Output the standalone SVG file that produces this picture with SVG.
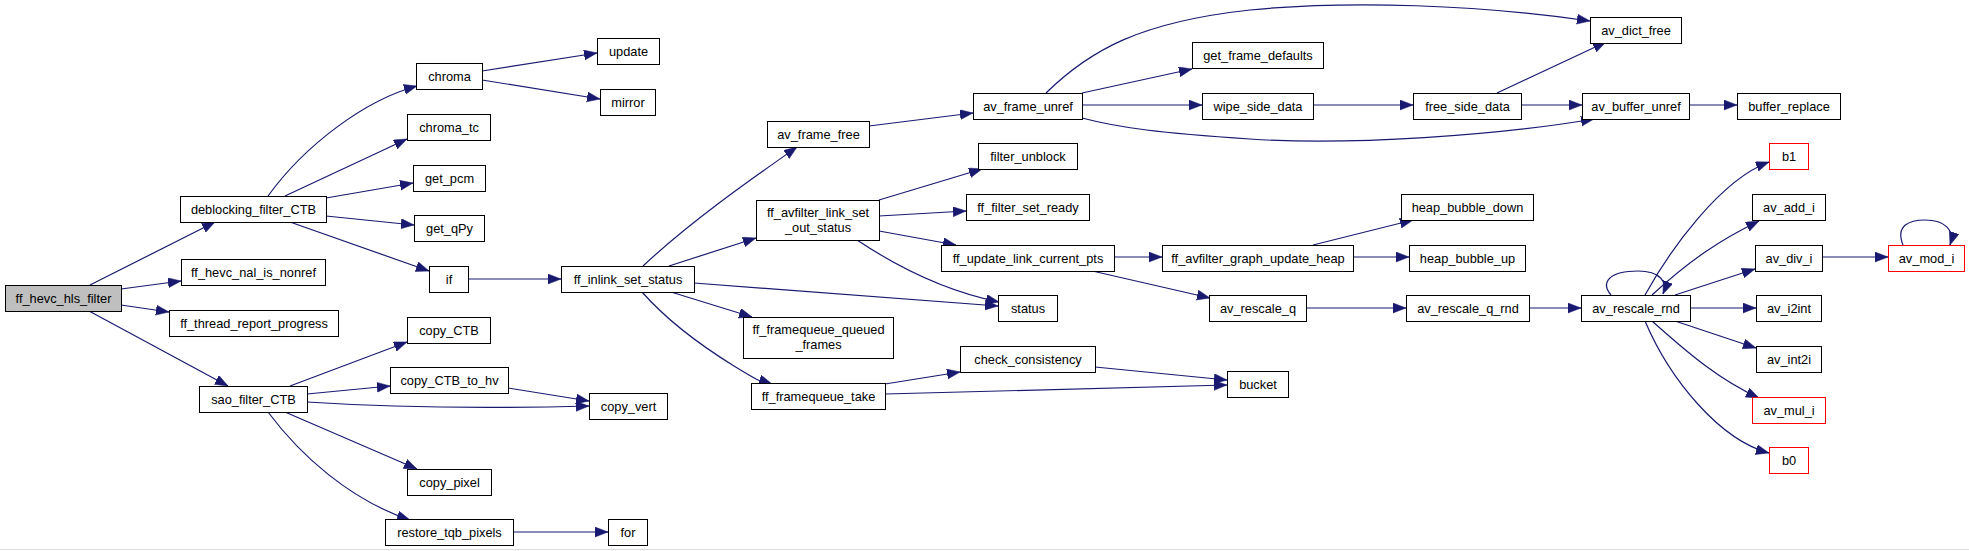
<svg xmlns="http://www.w3.org/2000/svg" width="1969" height="551" viewBox="0 0 1969 551">
<style>
.n rect{fill:#fff;stroke:#000;stroke-width:1}
.n.root rect{fill:#bfbfbf}
.n.red rect{stroke:#ff0000}
.n text{font-family:"Liberation Sans",Arial,sans-serif;font-size:12.8px;text-anchor:middle;fill:#000}
#edges path{fill:none;stroke:#191970;stroke-width:1.2;marker-end:url(#ah)}
</style>
<defs>
<marker id="ah" markerUnits="userSpaceOnUse" markerWidth="14" markerHeight="11" refX="13" refY="5" orient="auto">
<path d="M0,0 L13,5 L0,10 Z" fill="#191970" stroke="#191970" stroke-width="0.5"/>
</marker>
</defs>
<rect x="0" y="0" width="1969" height="551" fill="#fff"/>
<line x1="0" y1="549.5" x2="1969" y2="549.5" stroke="#dcdcdc" stroke-width="1"/>
<g id="edges">
<path d="M90,285 L215,222"/>
<path d="M121,289 L181,281"/>
<path d="M121,305 L169,312"/>
<path d="M89,311 L228,386"/>
<path d="M268,196 C305,145 365,100 417,86"/>
<path d="M285,196 L407,139"/>
<path d="M326,198 L413,183"/>
<path d="M326,216 L414,225"/>
<path d="M290,222 L429,271"/>
<path d="M482,71 L597,53"/>
<path d="M482,80 L600,99"/>
<path d="M468,279 L561,279"/>
<path d="M290,386 L407,342"/>
<path d="M307,394 L390,386"/>
<path d="M307,402 C400,408 480,409 589,406"/>
<path d="M508,388 L589,401"/>
<path d="M285,412 L417,469"/>
<path d="M268,412 C300,455 350,500 410,520"/>
<path d="M513,532 L608,532"/>
<path d="M643,266 C690,222 750,180 797,147"/>
<path d="M669,266 L756,238"/>
<path d="M694,283 L998,306"/>
<path d="M671,292 L752,317"/>
<path d="M642,292 C665,318 700,345 734,366 S760,380 772,384"/>
<path d="M879,200 L982,169"/>
<path d="M879,216 L966,211"/>
<path d="M879,231 L956,245"/>
<path d="M857,240 C890,262 940,290 999,302"/>
<path d="M869,126 L973,113"/>
<path d="M1046,93 C1090,50 1140,22 1250,10 C1350,0 1480,5 1590,21"/>
<path d="M1082,93 L1192,69"/>
<path d="M1082,105 L1202,105"/>
<path d="M1082,118 C1120,128 1160,133 1250,139 C1350,146 1500,135 1594,119"/>
<path d="M1313,105 L1413,105"/>
<path d="M1497,93 L1606,42"/>
<path d="M1521,105 L1582,105"/>
<path d="M1689,105 L1737,105"/>
<path d="M1114,257 L1162,257"/>
<path d="M1088,270 L1210,298"/>
<path d="M1313,245 L1413,220"/>
<path d="M1353,257 L1409,257"/>
<path d="M1306,308 L1406,308"/>
<path d="M1529,308 L1581,308"/>
<path d="M1611,295 C1600,282 1610,271 1638,271 C1660,271 1668,282 1663,294"/>
<path d="M1645,295 C1670,250 1720,180 1769,162"/>
<path d="M1652,295 C1690,260 1720,240 1759,221"/>
<path d="M1675,295 L1755,269"/>
<path d="M1690,308 L1756,308"/>
<path d="M1675,321 L1756,348"/>
<path d="M1652,321 C1690,355 1720,380 1759,398"/>
<path d="M1645,321 C1670,380 1720,440 1769,453"/>
<path d="M1822,257 L1888,257"/>
<path d="M1903,245 C1895,225 1910,220 1925,220 C1945,220 1955,230 1950,245"/>
<path d="M885,384 L960,372"/>
<path d="M885,394 L1227,385"/>
<path d="M1095,367 L1227,380"/>
</g>
<g id="n_ff_hevc_hls_filter" class="n root"><rect x="5.5" y="285.5" width="116" height="26"/><text x="63.5" y="303">ff_hevc_hls_filter</text></g>
<g id="n_deblocking_filter_CTB" class="n"><rect x="180.5" y="196.5" width="146" height="26"/><text x="253.5" y="214">deblocking_filter_CTB</text></g>
<g id="n_ff_hevc_nal_is_nonref" class="n"><rect x="181.5" y="259.5" width="144" height="26"/><text x="253.5" y="277">ff_hevc_nal_is_nonref</text></g>
<g id="n_ff_thread_report_progress" class="n"><rect x="169.5" y="310.5" width="169" height="26"/><text x="254" y="328">ff_thread_report_progress</text></g>
<g id="n_sao_filter_CTB" class="n"><rect x="199.5" y="386.5" width="108" height="26"/><text x="253.5" y="404">sao_filter_CTB</text></g>
<g id="n_chroma" class="n"><rect x="416.5" y="63.5" width="66" height="26"/><text x="449.5" y="81">chroma</text></g>
<g id="n_chroma_tc" class="n"><rect x="407.5" y="114.5" width="83" height="26"/><text x="449" y="132">chroma_tc</text></g>
<g id="n_get_pcm" class="n"><rect x="413.5" y="165.5" width="72" height="26"/><text x="449.5" y="183">get_pcm</text></g>
<g id="n_get_qPy" class="n"><rect x="414.5" y="215.5" width="70" height="26"/><text x="449.5" y="233">get_qPy</text></g>
<g id="n_if" class="n"><rect x="429.5" y="266.5" width="39" height="26"/><text x="449" y="284">if</text></g>
<g id="n_copy_CTB" class="n"><rect x="407.5" y="317.5" width="83" height="26"/><text x="449" y="335">copy_CTB</text></g>
<g id="n_copy_CTB_to_hv" class="n"><rect x="390.5" y="367.5" width="118" height="26"/><text x="449.5" y="385">copy_CTB_to_hv</text></g>
<g id="n_copy_pixel" class="n"><rect x="407.5" y="469.5" width="84" height="26"/><text x="449.5" y="487">copy_pixel</text></g>
<g id="n_restore_tqb_pixels" class="n"><rect x="385.5" y="519.5" width="128" height="26"/><text x="449.5" y="537">restore_tqb_pixels</text></g>
<g id="n_update" class="n"><rect x="597.5" y="38.5" width="62" height="26"/><text x="628.5" y="56">update</text></g>
<g id="n_mirror" class="n"><rect x="600.5" y="89.5" width="55" height="26"/><text x="628" y="107">mirror</text></g>
<g id="n_ff_inlink_set_status" class="n"><rect x="561.5" y="266.5" width="133" height="26"/><text x="628" y="284">ff_inlink_set_status</text></g>
<g id="n_copy_vert" class="n"><rect x="589.5" y="393.5" width="78" height="26"/><text x="628.5" y="411">copy_vert</text></g>
<g id="n_for" class="n"><rect x="608.5" y="519.5" width="39" height="26"/><text x="628" y="537">for</text></g>
<g id="n_av_frame_free" class="n"><rect x="767.5" y="121.5" width="102" height="26"/><text x="818.5" y="139">av_frame_free</text></g>
<g id="n_ff_avfilter_link_set_out_status" class="n"><rect x="756.5" y="200.5" width="123" height="40"/><text x="818" y="217">ff_avfilter_link_set</text><text x="818" y="231.5">_out_status</text></g>
<g id="n_ff_framequeue_queued_frames" class="n"><rect x="743.5" y="317.5" width="150" height="41"/><text x="818.5" y="334">ff_framequeue_queued</text><text x="818.5" y="348.5">_frames</text></g>
<g id="n_ff_framequeue_take" class="n"><rect x="751.5" y="383.5" width="134" height="26"/><text x="818.5" y="401">ff_framequeue_take</text></g>
<g id="n_av_frame_unref" class="n"><rect x="973.5" y="93.5" width="109" height="26"/><text x="1028" y="111">av_frame_unref</text></g>
<g id="n_filter_unblock" class="n"><rect x="978.5" y="143.5" width="99" height="26"/><text x="1028" y="161">filter_unblock</text></g>
<g id="n_ff_filter_set_ready" class="n"><rect x="966.5" y="194.5" width="123" height="26"/><text x="1028" y="212">ff_filter_set_ready</text></g>
<g id="n_ff_update_link_current_pts" class="n"><rect x="941.5" y="245.5" width="173" height="26"/><text x="1028" y="263">ff_update_link_current_pts</text></g>
<g id="n_status" class="n"><rect x="998.5" y="295.5" width="59" height="26"/><text x="1028" y="313">status</text></g>
<g id="n_check_consistency" class="n"><rect x="960.5" y="346.5" width="135" height="26"/><text x="1028" y="364">check_consistency</text></g>
<g id="n_get_frame_defaults" class="n"><rect x="1192.5" y="42.5" width="131" height="26"/><text x="1258" y="60">get_frame_defaults</text></g>
<g id="n_wipe_side_data" class="n"><rect x="1202.5" y="93.5" width="111" height="26"/><text x="1258" y="111">wipe_side_data</text></g>
<g id="n_ff_avfilter_graph_update_heap" class="n"><rect x="1162.5" y="245.5" width="191" height="26"/><text x="1258" y="263">ff_avfilter_graph_update_heap</text></g>
<g id="n_av_rescale_q" class="n"><rect x="1209.5" y="295.5" width="97" height="26"/><text x="1258" y="313">av_rescale_q</text></g>
<g id="n_bucket" class="n"><rect x="1227.5" y="371.5" width="61" height="26"/><text x="1258" y="389">bucket</text></g>
<g id="n_free_side_data" class="n"><rect x="1413.5" y="93.5" width="108" height="26"/><text x="1467.5" y="111">free_side_data</text></g>
<g id="n_heap_bubble_down" class="n"><rect x="1401.5" y="194.5" width="132" height="26"/><text x="1467.5" y="212">heap_bubble_down</text></g>
<g id="n_heap_bubble_up" class="n"><rect x="1409.5" y="245.5" width="116" height="26"/><text x="1467.5" y="263">heap_bubble_up</text></g>
<g id="n_av_rescale_q_rnd" class="n"><rect x="1406.5" y="295.5" width="123" height="26"/><text x="1468" y="313">av_rescale_q_rnd</text></g>
<g id="n_av_dict_free" class="n"><rect x="1590.5" y="17.5" width="91" height="26"/><text x="1636" y="35">av_dict_free</text></g>
<g id="n_av_buffer_unref" class="n"><rect x="1582.5" y="93.5" width="107" height="26"/><text x="1636" y="111">av_buffer_unref</text></g>
<g id="n_av_rescale_rnd" class="n"><rect x="1581.5" y="295.5" width="109" height="26"/><text x="1636" y="313">av_rescale_rnd</text></g>
<g id="n_buffer_replace" class="n"><rect x="1737.5" y="93.5" width="103" height="26"/><text x="1789" y="111">buffer_replace</text></g>
<g id="n_b1" class="n red"><rect x="1769.5" y="143.5" width="39" height="26"/><text x="1789" y="161">b1</text></g>
<g id="n_av_add_i" class="n"><rect x="1752.5" y="194.5" width="73" height="26"/><text x="1789" y="212">av_add_i</text></g>
<g id="n_av_div_i" class="n"><rect x="1755.5" y="245.5" width="67" height="26"/><text x="1789" y="263">av_div_i</text></g>
<g id="n_av_i2int" class="n"><rect x="1756.5" y="295.5" width="65" height="26"/><text x="1789" y="313">av_i2int</text></g>
<g id="n_av_int2i" class="n"><rect x="1756.5" y="346.5" width="65" height="26"/><text x="1789" y="364">av_int2i</text></g>
<g id="n_av_mul_i" class="n red"><rect x="1752.5" y="397.5" width="73" height="26"/><text x="1789" y="415">av_mul_i</text></g>
<g id="n_b0" class="n red"><rect x="1769.5" y="447.5" width="39" height="26"/><text x="1789" y="465">b0</text></g>
<g id="n_av_mod_i" class="n red"><rect x="1888.5" y="245.5" width="76" height="26"/><text x="1926.5" y="263">av_mod_i</text></g>
</svg>
